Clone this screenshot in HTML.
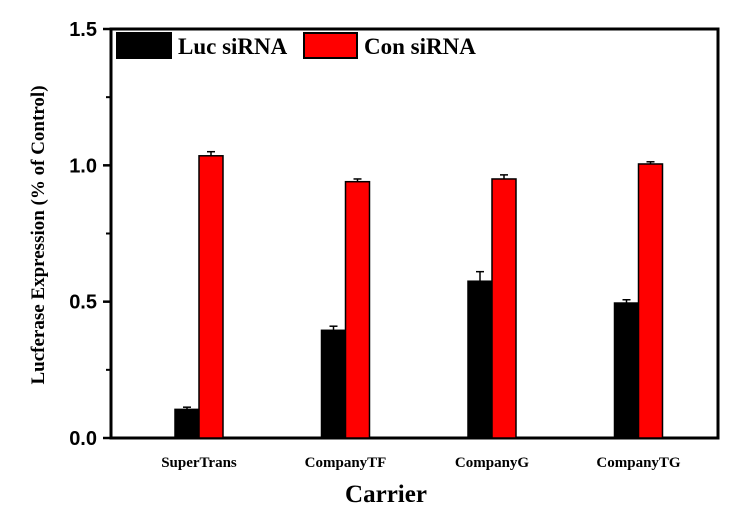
<!DOCTYPE html>
<html><head><meta charset="utf-8"><style>
body{margin:0;background:#fff;}
svg{display:block;}
.tk{font-family:"Liberation Sans",sans-serif;font-weight:bold;font-size:20px;}
.cat{font-family:"Liberation Serif",serif;font-weight:bold;font-size:15px;}
.ttl{font-family:"Liberation Serif",serif;font-weight:bold;}
</style></head><body>
<svg id="chart" width="750" height="518" viewBox="0 0 750 518" xmlns="http://www.w3.org/2000/svg">
<rect x="111" y="29" width="607" height="409" fill="none" stroke="#000" stroke-width="3"/>
<g id="bars"></g>
<g id="axes"></g>
<g>
<rect x="116" y="32" width="56" height="27" fill="#000"/>
<text class="ttl" x="178" y="54" font-size="23">Luc siRNA</text>
<rect x="304" y="33" width="53" height="25" fill="#f00" stroke="#000" stroke-width="2"/>
<text class="ttl" x="364" y="54" font-size="23">Con siRNA</text>
</g>
<text class="ttl" x="386" y="502" font-size="25" text-anchor="middle">Carrier</text>
<text class="ttl" font-size="19" text-anchor="middle" transform="translate(44,235) rotate(-90)">Lucferase Expression (% of Control)</text>
</svg>
<script>
const categories=["SuperTrans","CompanyTF","CompanyG","CompanyTG"];
const lucValues=[0.105,0.395,0.575,0.495];
const lucErrors=[0.008,0.015,0.035,0.012];
const conValues=[1.035,0.94,0.95,1.005];
const conErrors=[0.015,0.01,0.015,0.008];
const yTicks=[0,0.5,1.0,1.5];
const yTickLabels=["0.0","0.5","1.0","1.5"];
const yMinor=[0.25,0.75,1.25];
const NS="http://www.w3.org/2000/svg";
function y(v){return 438-v*(409/1.5);}
function xc(i){return 199+i*146.5;}
function mk(tag,attrs,parent){const e=document.createElementNS(NS,tag);for(const k in attrs)e.setAttribute(k,attrs[k]);parent.appendChild(e);return e;}
const bars=document.getElementById('bars'),axes=document.getElementById('axes');
const bw=24;
categories.forEach((c,i)=>{
  const x=xc(i);
  [[lucValues,lucErrors,'#000',x-bw,'luc'],[conValues,conErrors,'#f00',x,'con']].forEach(([vals,errs,col,bx,nm])=>{
    const v=vals[i],e=errs[i];
    const cx=bx+bw/2;
    const eb=mk('line',{x1:cx,x2:cx,y1:y(v),y2:y(v+e),stroke:'#000','stroke-width':1.5},bars);
    
    
    const cap=mk('line',{x1:cx-4,x2:cx+4,y1:y(v+e),y2:y(v+e),stroke:'#000','stroke-width':1.5},bars);
    
    
    const r=mk('rect',{x:bx,y:y(v),width:bw,height:y(0)-y(v),fill:col,stroke:'#000','stroke-width':1.5},bars);
    
    
  });
  const t=mk('text',{x:x,y:467,'text-anchor':'middle',class:'cat'},axes);
  t.textContent=c;
  
  
});
yTicks.forEach((v,i)=>{
  const l=mk('line',{x1:103,x2:111,y1:y(v),y2:y(v),stroke:'#000','stroke-width':2.5},axes);
  
  
  const t=mk('text',{x:97,y:y(v)+7,'text-anchor':'end',class:'tk'},axes);
  t.textContent=yTickLabels[i];
  
  
});
yMinor.forEach((v,i)=>{
  const l=mk('line',{x1:106,x2:111,y1:y(v),y2:y(v),stroke:'#000','stroke-width':2},axes);
  
  
});
</script>
</body></html>
